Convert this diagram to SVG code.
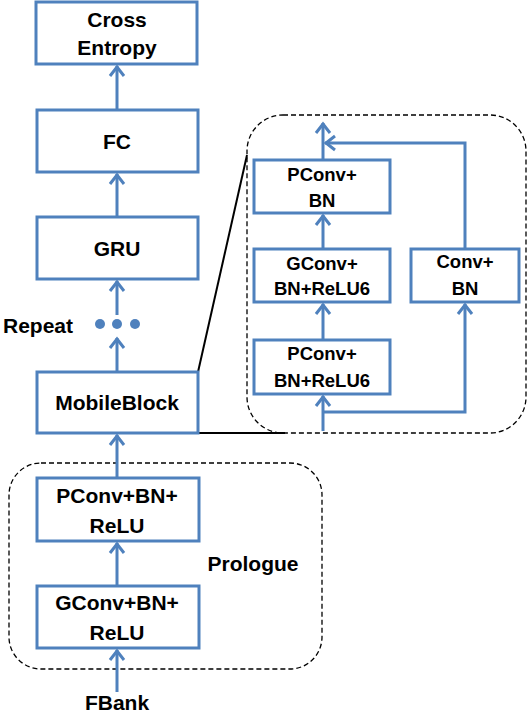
<svg xmlns="http://www.w3.org/2000/svg" width="528" height="714" viewBox="0 0 528 714">
<style>
.box{fill:#fff;stroke:#4f81bd;stroke-width:3}
.t{font-family:"Liberation Sans",Arial,sans-serif;font-weight:bold;font-size:21px;fill:#000;text-anchor:middle}
.s{font-size:18.5px}
.c{fill:none;stroke:#4f81bd;stroke-width:3}
.d{fill:none;stroke:#000;stroke-width:1.3;stroke-dasharray:5,3}
.k{fill:none;stroke:#000;stroke-width:2}
</style>
<defs>
<marker id="a" markerUnits="userSpaceOnUse" markerWidth="20" markerHeight="20" refX="1" refY="0" viewBox="-12 -10 14 20" orient="auto" overflow="visible">
<path d="M-9,-7 L0,0 L-9,7" fill="none" stroke="#4f81bd" stroke-width="3"/>
</marker>
</defs>
<rect class="d" x="9" y="463" width="313" height="206" rx="32"/>
<rect class="d" x="247" y="115" width="279" height="318" rx="36"/>
<g id="connectors">
<path class="k" d="M198,372 L247,155"/>
<path class="k" d="M198,433 L285,433"/>
<path class="c" d="M117,110 L117,66" marker-end="url(#a)"/>
<path class="c" d="M117,217 L117,174" marker-end="url(#a)"/>
<path class="c" d="M117,315 L117,281" marker-end="url(#a)"/>
<path class="c" d="M117,372 L117,338" marker-end="url(#a)"/>
<path class="c" d="M117,478 L117,435" marker-end="url(#a)"/>
<path class="c" d="M117,586 L117,543" marker-end="url(#a)"/>
<path class="c" d="M117,692 L117,650" marker-end="url(#a)"/>
<path class="c" d="M323,160 L323,123" marker-end="url(#a)"/>
<path class="c" d="M465,249 L465,143 L325,143" marker-end="url(#a)"/>
<path class="c" d="M323,249 L323,215" marker-end="url(#a)"/>
<path class="c" d="M323,340 L323,304" marker-end="url(#a)"/>
<path class="c" d="M323,431 L323,396" marker-end="url(#a)"/>
<path class="c" d="M323,412 L465,412 L465,304" marker-end="url(#a)"/>
<circle cx="100" cy="324" r="5" fill="#4f81bd"/>
<circle cx="117" cy="324" r="5" fill="#4f81bd"/>
<circle cx="135" cy="324" r="5" fill="#4f81bd"/>
</g>
<g id="cross-entropy"><rect class="box" x="36" y="2" width="161" height="62"/><text class="t" x="117" y="27">Cross</text><text class="t" x="117" y="55">Entropy</text></g>
<g id="fc"><rect class="box" x="37" y="110" width="161" height="62"/><text class="t" x="117" y="149">FC</text></g>
<g id="gru"><rect class="box" x="37" y="217" width="161" height="62"/><text class="t" x="117" y="256">GRU</text></g>
<g id="repeat"><text class="t" x="73" y="333" style="text-anchor:end">Repeat</text></g>
<g id="mobileblock"><rect class="box" x="37" y="372" width="161" height="61"/><text class="t" x="117" y="410">MobileBlock</text></g>
<g id="pconv-bn-relu"><rect class="box" x="37" y="478" width="162" height="63"/><text class="t" x="117" y="503">PConv+BN+</text><text class="t" x="117" y="533">ReLU</text></g>
<g id="gconv-bn-relu"><rect class="box" x="37" y="586" width="162" height="62"/><text class="t" x="117" y="610">GConv+BN+</text><text class="t" x="117" y="640">ReLU</text></g>
<g id="prologue"><text class="t" x="253" y="571">Prologue</text></g>
<g id="fbank"><text class="t" x="117" y="710">FBank</text></g>
<g id="pconv-bn"><rect class="box" x="254" y="160" width="136" height="53"/><text class="t s" x="322" y="181">PConv+</text><text class="t s" x="322" y="207">BN</text></g>
<g id="gconv-bn-relu6"><rect class="box" x="254" y="249" width="136" height="53"/><text class="t s" x="322" y="270">GConv+</text><text class="t s" x="322" y="295">BN+ReLU6</text></g>
<g id="pconv-bn-relu6"><rect class="box" x="254" y="340" width="136" height="54"/><text class="t s" x="322" y="360">PConv+</text><text class="t s" x="322" y="387">BN+ReLU6</text></g>
<g id="conv-bn"><rect class="box" x="411" y="249" width="108" height="53"/><text class="t s" x="465" y="268">Conv+</text><text class="t s" x="465" y="295">BN</text></g>
</svg>
